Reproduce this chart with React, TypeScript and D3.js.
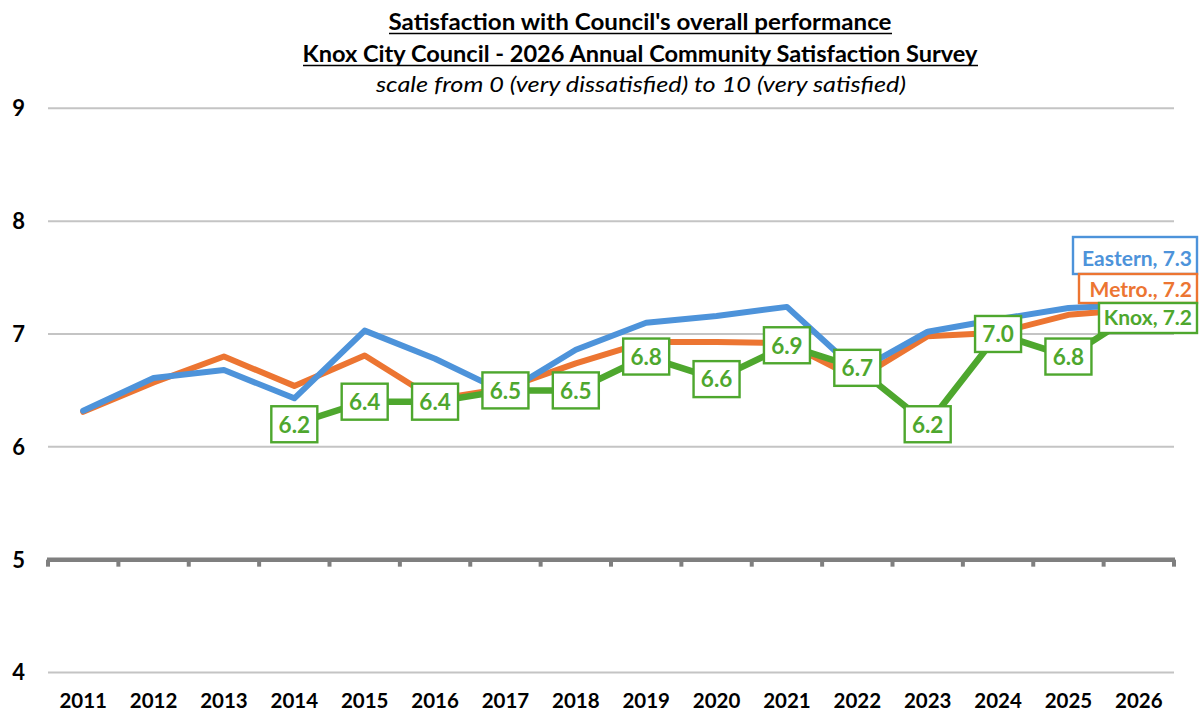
import React from "react";
import * as d3 from "d3";

const years = ["2011","2012","2013","2014","2015","2016","2017","2018","2019","2020","2021","2022","2023","2024","2025","2026"];
const eastern = [6.32, 6.61, 6.68, 6.43, 7.03, 6.78, 6.48, 6.86, 7.1, 7.16, 7.24, 6.67, 7.02, 7.13, 7.23, 7.26];
const metro = [6.31, 6.57, 6.8, 6.54, 6.81, 6.42, 6.52, 6.74, 6.93, 6.93, 6.92, 6.6, 6.98, 7.01, 7.17, 7.22];
const knox: (number | null)[] = [null, null, null, 6.2, 6.4, 6.4, 6.5, 6.5, 6.8, 6.6, 6.9, 6.7, 6.2, 7.0, 6.8, 7.2];
const yTicks = [4, 5, 6, 7, 8, 9];
const endLabels = ["Eastern, 7.3", "Metro., 7.2", "Knox, 7.2"];
const titleLines = [
  "Satisfaction with Council's overall performance",
  "Knox City Council - 2026 Annual Community Satisfaction Survey",
  "scale from 0 (very dissatisfied) to 10 (very satisfied)",
];

const BLUE = "#4D93DA";
const ORANGE = "#EC7532";
const GREEN = "#4EA72E";
const FONT = "Lato, 'Open Sans', sans-serif";

export default function App() {
  const W = 1200, H = 711;
  const x = d3.scaleBand().domain(years).range([48, 1174]).padding(0);
  const bw = x.bandwidth();
  const cx = (i: number) => (x(years[i]) as number) + bw / 2;
  const y = d3.scaleLinear().domain([4, 9]).range([672.5, 108.3]);

  const line = d3
    .line<number | null>()
    .defined((d) => d !== null)
    .x((_, i) => cx(i))
    .y((d) => y(d as number));

  const last = years.length - 1;
  const endBoxes = [
    { text: endLabels[0], color: BLUE, x: 1073, y: 237, w: 124, h: 37, ty: 258 },
    { text: endLabels[1], color: ORANGE, x: 1079, y: 274, w: 118, h: 29, ty: 289 },
    { text: endLabels[2], color: GREEN, x: 1099, y: 303, w: 98, h: 30, ty: 317 },
  ];

  return (
    <svg width={W} height={H} style={{ position: "absolute", left: 0, top: 0, background: "#fff" }}>
      <rect x={0} y={0} width={W} height={H} fill="#fff" />
      {/* Title */}
      <text x={640} y={30} textAnchor="middle" fontFamily={FONT} fontWeight="bold" fontSize={22} textLength={503} lengthAdjust="spacingAndGlyphs">{titleLines[0]}</text>
      <line x1={389} x2={892} y1={33.5} y2={33.5} stroke="#000" strokeWidth={1.6} />
      <text x={640} y={62} textAnchor="middle" fontFamily={FONT} fontWeight="bold" fontSize={22} textLength={675} lengthAdjust="spacingAndGlyphs">{titleLines[1]}</text>
      <line x1={303} x2={978} y1={65.5} y2={65.5} stroke="#000" strokeWidth={1.6} />
      <text x={641} y={92} textAnchor="middle" fontFamily={FONT} fontStyle="italic" fontSize={22} textLength={530} lengthAdjust="spacingAndGlyphs">{titleLines[2]}</text>

      {/* Gridlines */}
      {yTicks.filter((t) => t !== 5).map((t) => (
        <line key={t} x1={48} x2={1174} y1={y(t)} y2={y(t)} stroke="#C4C4C4" strokeWidth={2} />
      ))}
      {/* Y labels */}
      {yTicks.map((t) => (
        <text key={"yl" + t} x={25} y={y(t)} dy="0.36em" textAnchor="end" fontFamily={FONT} fontWeight="bold" fontSize={22} fill="#000">{t}</text>
      ))}
      {/* Axis at 5 */}
      <line x1={47} x2={1175} y1={y(5)} y2={y(5)} stroke="#7F7F7F" strokeWidth={4.5} />
      {years.concat(["end"]).map((yr, i) => {
        const xx = i < years.length ? (x(yr) as number) : 1174;
        return <line key={"tk" + i} x1={xx} x2={xx} y1={y(5)} y2={y(5) + 7} stroke="#7F7F7F" strokeWidth={4} />;
      })}
      {/* X labels */}
      {years.map((yr, i) => (
        <text key={"xl" + yr} x={cx(i)} y={708} textAnchor="middle" fontFamily={FONT} fontWeight="bold" fontSize={20.5} fill="#000">{yr}</text>
      ))}

      {/* Lines */}
      <path d={line(metro) as string} fill="none" stroke={ORANGE} strokeWidth={6} strokeLinejoin="round" strokeLinecap="round" />
      <path d={line(eastern) as string} fill="none" stroke={BLUE} strokeWidth={6} strokeLinejoin="round" strokeLinecap="round" />
      <path d={line(knox) as string} fill="none" stroke={GREEN} strokeWidth={6.5} strokeLinejoin="round" />

      {/* Knox point labels */}
      {knox.map((v, i) => {
        if (v === null || i === last) return null;
        const px = cx(i), py = y(v);
        return (
          <g key={"kl" + i}>
            <rect x={px - 23} y={py - 18} width={46} height={36} fill="#fff" stroke={GREEN} strokeWidth={2.4} />
            <text x={px} y={py} dy="0.37em" textAnchor="middle" fontFamily={FONT} fontWeight="bold" fontSize={22.5} fill={GREEN}>{v.toFixed(1)}</text>
          </g>
        );
      })}

      {/* End labels */}
      {endBoxes.map((b) => (
        <g key={b.text}>
          <rect x={b.x} y={b.y} width={b.w} height={b.h} fill="#fff" stroke={b.color} strokeWidth={2.4} />
          <text x={1192} y={b.ty} dy="0.36em" textAnchor="end" fontFamily={FONT} fontWeight="bold" fontSize={21} fill={b.color}>{b.text}</text>
        </g>
      ))}
    </svg>
  );
}
